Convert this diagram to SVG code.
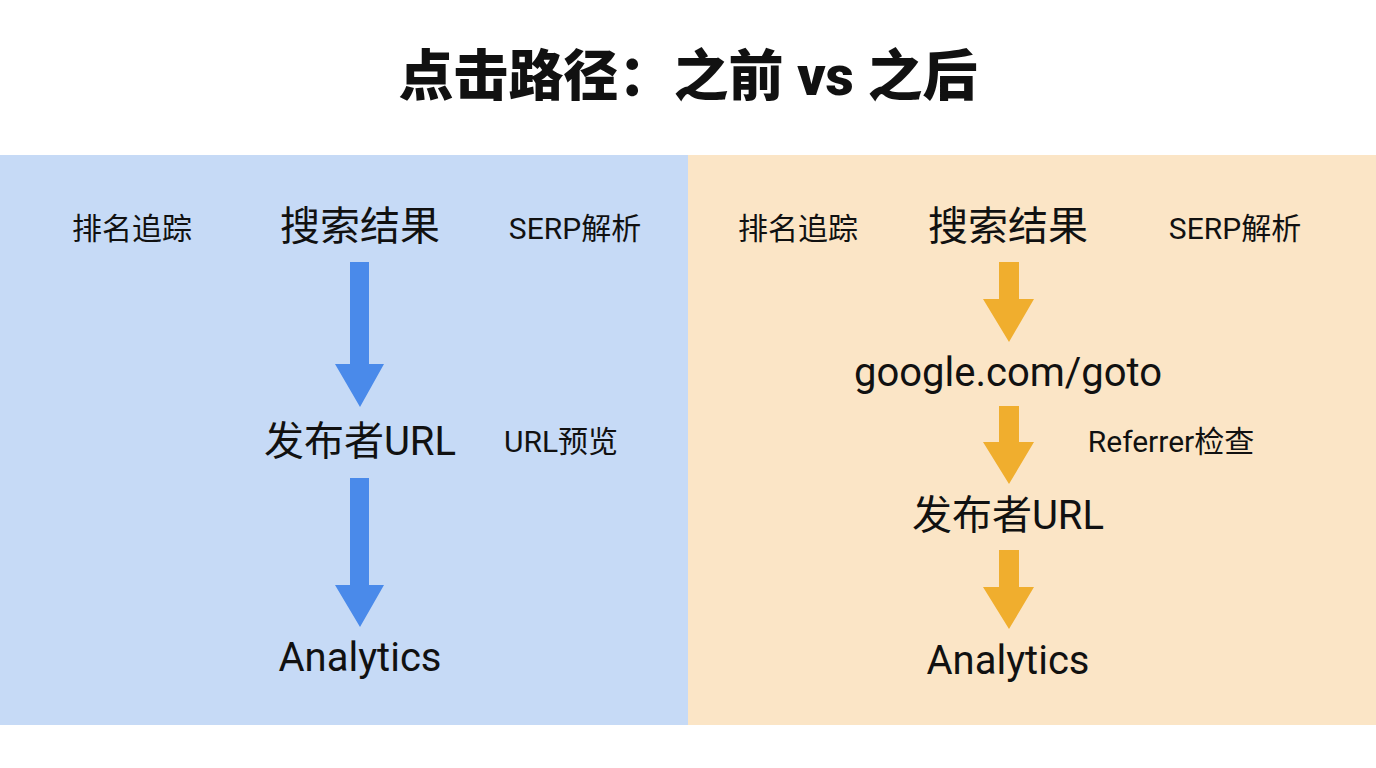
<svg xmlns="http://www.w3.org/2000/svg" width="1376" height="768" viewBox="0 0 1376 768">
<style>
text{font-family:Roboto,"Noto Sans CJK SC",sans-serif;fill:#111;text-anchor:middle;dominant-baseline:central}
.t{font-size:55px;font-weight:900}
.m{font-size:40px}
.s{font-size:30px}
.b{fill:#4A8AEA}
.o{fill:#F0AE2E}
</style>
<rect width="1376" height="768" fill="#fff"/>
<text class="t" x="688" y="76">点击路径：之前 vs 之后</text>
<rect id="panel-before" x="0" y="155" width="688" height="570" fill="#C6DAF6"/>
<rect id="panel-after" x="688" y="155" width="688" height="570" fill="#FBE5C6"/>
<g id="connectors">
<polygon class="b" points="350,262 369,262 369,364 384,364 360,407 335,364 350,364"/>
<polygon class="b" points="350,478 369,478 369,585 384,585 360,627 335,585 350,585"/>
<polygon class="o" points="999,262 1019,262 1019,299 1034,299 1009,342 983,299 999,299"/>
<polygon class="o" points="999,406 1019,406 1019,442 1034,442 1009,484 983,442 999,442"/>
<polygon class="o" points="999,550 1019,550 1019,587 1034,587 1009,629 983,587 999,587"/>
</g>
<g id="l-rank"><text class="s" x="132" y="228">排名追踪</text></g>
<g id="l-serp"><text class="m" x="360" y="226">搜索结果</text></g>
<g id="l-parse"><text class="s" x="575" y="228">SERP解析</text></g>
<g id="l-pub"><text class="m" x="360" y="441">发布者URL</text></g>
<g id="l-preview"><text class="s" x="561" y="441">URL预览</text></g>
<g id="l-analytics"><text class="m" x="360" y="657">Analytics</text></g>
<g id="r-rank"><text class="s" x="798" y="228">排名追踪</text></g>
<g id="r-serp"><text class="m" x="1008" y="226">搜索结果</text></g>
<g id="r-parse"><text class="s" x="1235" y="228">SERP解析</text></g>
<g id="r-goto"><text class="m" x="1008" y="372">google.com/goto</text></g>
<g id="r-ref"><text class="s" x="1171" y="441">Referrer检查</text></g>
<g id="r-pub"><text class="m" x="1008" y="515">发布者URL</text></g>
<g id="r-analytics"><text class="m" x="1008" y="660">Analytics</text></g>
</svg>
